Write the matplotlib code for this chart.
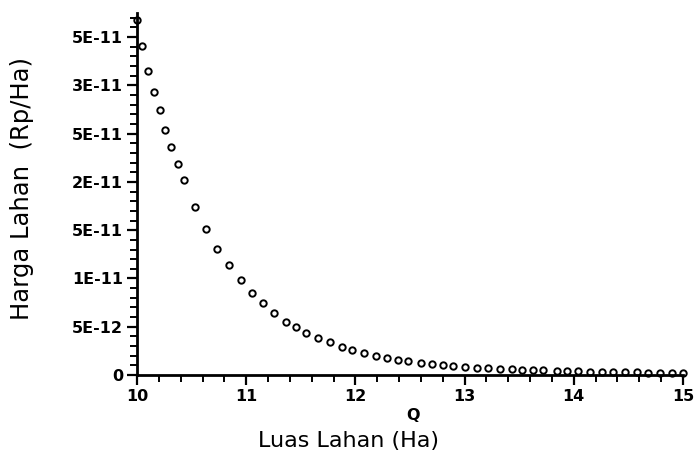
import matplotlib
matplotlib.use("Agg")
import matplotlib.pyplot as plt
from matplotlib.ticker import FixedLocator, FixedFormatter, MultipleLocator

# Data (Q in Ha, price in Rp/Ha)
q = [10.0, 10.05, 10.1, 10.16, 10.21, 10.26, 10.31, 10.38, 10.43, 10.53,
     10.63, 10.73, 10.84, 10.95, 11.05, 11.15, 11.25, 11.36, 11.46, 11.55,
     11.66, 11.77, 11.88, 11.97, 12.08, 12.19, 12.29, 12.39, 12.48, 12.60,
     12.70, 12.80, 12.89, 13.00, 13.11, 13.21, 13.32, 13.43, 13.53, 13.63,
     13.72, 13.85, 13.94, 14.04, 14.15, 14.26, 14.36, 14.47, 14.58, 14.68,
     14.79, 14.90, 15.0]
price_e11 = [3.68, 3.41, 3.15, 2.93, 2.74, 2.54, 2.36, 2.19, 2.02, 1.74,
             1.51, 1.31, 1.14, 0.98, 0.85, 0.75, 0.64, 0.55, 0.50, 0.44,
             0.38, 0.34, 0.29, 0.26, 0.23, 0.20, 0.18, 0.16, 0.14, 0.12,
             0.11, 0.10, 0.09, 0.08, 0.075, 0.07, 0.065, 0.06, 0.056, 0.052,
             0.048, 0.044, 0.041, 0.038, 0.035, 0.032, 0.030, 0.028, 0.026, 0.024,
             0.022, 0.020, 0.019]
price = [v * 1e-11 for v in price_e11]

y_tick_values = [0, 5e-12, 1e-11, 1.5e-11, 2e-11, 2.5e-11, 3e-11, 3.5e-11]
y_tick_labels = ["0", "5E-12", "1E-11", "5E-11", "2E-11", "5E-11", "3E-11", "5E-11"]
x_tick_values = [10, 11, 12, 13, 14, 15]
x_tick_labels = ["10", "11", "12", "13", "14", "15"]

fig = plt.figure(figsize=(6.95, 4.57), dpi=100)
ax = fig.add_axes([137/695, (457-375)/457, (683-137)/695, (375-13)/457])

ax.plot(q, price, linestyle="none", marker="o", markersize=4.6,
        markerfacecolor="white", markeredgecolor="black", markeredgewidth=1.4,
        clip_on=False)

ax.set_xlim(10, 15)
ax.set_ylim(0, 3.75e-11)

ax.spines["top"].set_visible(False)
ax.spines["right"].set_visible(False)
ax.spines["left"].set_linewidth(2.0)
ax.spines["bottom"].set_linewidth(2.0)

ax.yaxis.set_major_locator(FixedLocator(y_tick_values))
ax.yaxis.set_major_formatter(FixedFormatter(y_tick_labels))
ax.yaxis.set_minor_locator(MultipleLocator(1e-12))
ax.xaxis.set_major_locator(FixedLocator(x_tick_values))
ax.xaxis.set_major_formatter(FixedFormatter(x_tick_labels))
ax.xaxis.set_minor_locator(MultipleLocator(0.2))

ax.tick_params(axis="both", which="major", direction="out", length=7, width=1.6,
               labelsize=11.5, pad=3)
ax.tick_params(axis="both", which="minor", direction="out", length=5, width=1.4)
for lab in ax.get_xticklabels() + ax.get_yticklabels():
    lab.set_fontweight("bold")
    lab.set_family("DejaVu Sans")

fig.text(413/695, 1 - 415/457, "Q", ha="center", va="center",
         fontsize=11.5, fontweight="bold", family="DejaVu Sans")
fig.text(349/695, 1 - 441/457, "Luas Lahan (Ha)", ha="center", va="center",
         fontsize=16, family="DejaVu Sans")
fig.text(22/695, 1 - 188/457, "Harga Lahan  (Rp/Ha)", ha="center", va="center",
         rotation=90, fontsize=17.5, family="DejaVu Sans")

fig.savefig("out.png", dpi=100)
